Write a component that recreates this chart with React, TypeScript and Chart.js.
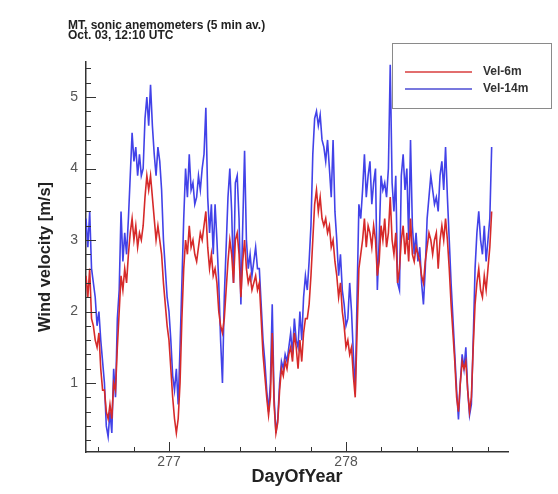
import { useEffect, useRef } from "react";
import { Chart, registerables } from "chart.js";

Chart.register(...registerables);

// Sample times: day of year, one value every 15 minutes
const DAY_START = 276.531;
const SAMPLE_STEP = 15 / 1440;

// Wind velocity at 6 m [m/s]
const VEL_6M = [
  2.5, 2.2, 2.6, 1.9, 1.8,
  1.6, 1.5, 1.7, 1.2, 0.9,
  0.9, 0.6, 0.5, 0.7, 0.5,
  1.0, 0.9, 1.5, 2.0, 2.5,
  2.3, 2.6, 2.4, 2.8, 3.1,
  3.3, 3.0, 3.2, 2.9, 3.1,
  3.0, 3.2, 3.6, 3.9, 3.7,
  3.9, 3.6, 3.3, 3.0, 3.2,
  3.0, 2.8, 2.4, 2.1, 1.8,
  1.6, 1.2, 0.8, 0.5, 0.3,
  0.5, 1.0, 1.9, 2.6, 3.0,
  2.8, 3.2, 2.9, 3.0, 2.8,
  2.7, 2.9, 3.1, 3.0, 3.2,
  3.4, 2.9, 2.6, 2.8, 2.5,
  2.6, 2.4, 2.0, 1.8, 1.7,
  1.9, 2.3, 2.7, 3.0, 2.8,
  2.4, 3.0, 3.1, 2.8, 2.2,
  2.7, 3.0, 2.6, 2.4, 2.5,
  2.3, 2.4, 2.5, 2.3, 2.4,
  1.9, 1.4, 1.1, 0.8, 0.55,
  0.8, 1.7, 0.7, 0.3, 0.45,
  0.9, 1.2, 1.1, 1.3, 1.2,
  1.4, 1.5, 1.3, 1.7, 1.5,
  1.2, 1.6, 1.3, 1.7, 1.9,
  1.9, 2.1, 2.5, 3.0, 3.5,
  3.7, 3.4, 3.6, 3.3, 3.2,
  3.3, 3.1, 3.2, 2.9, 3.0,
  2.7, 2.5, 2.2, 2.4, 2.0,
  1.8, 1.5, 1.6, 1.4, 1.5,
  1.1, 0.8, 1.7, 2.6, 2.8,
  3.0, 3.3, 2.9, 3.2, 3.1,
  2.9, 3.2, 3.0, 2.5, 2.7,
  3.2, 3.0, 3.3, 2.9, 3.1,
  3.6, 3.0, 2.8, 3.1, 2.4,
  2.6, 3.0, 3.2, 2.8, 3.1,
  2.7, 3.3, 2.8, 2.7, 2.9,
  2.8, 2.7, 2.5, 2.4, 2.7,
  2.9, 3.1, 3.0, 2.8, 3.0,
  3.1, 2.6, 3.0, 3.2, 3.0,
  3.3, 3.0, 2.6, 2.1, 1.7,
  1.3, 0.8, 0.6, 1.0, 1.3,
  1.2, 1.3, 0.9, 0.6, 0.8,
  1.5, 2.1, 2.4, 2.6, 2.3,
  2.2, 2.5, 2.3, 2.6, 2.9,
  3.4,
];

// Wind velocity at 14 m [m/s]
const VEL_14M = [
  3.3, 2.9, 3.4, 2.6, 2.4,
  2.2, 1.8, 2.0, 1.6, 1.3,
  1.0, 0.4, 0.25, 0.6, 0.3,
  1.2, 0.8, 1.9, 2.3, 3.4,
  2.7, 3.1, 2.8, 3.3, 3.9,
  4.5, 4.1, 4.3, 3.9, 4.2,
  3.9, 4.0, 4.7, 5.0, 4.6,
  5.17, 4.6, 4.2, 3.9, 4.3,
  4.1, 3.7, 3.0, 2.6, 2.2,
  2.0, 1.6, 1.1, 0.9, 1.2,
  0.7, 1.5, 2.4, 3.3, 4.0,
  3.6, 4.2, 3.7, 3.8, 3.5,
  3.6, 3.9, 3.7, 4.0, 4.2,
  4.85, 3.6, 3.1, 3.5, 2.8,
  3.5, 3.0, 2.4, 1.6, 1.0,
  2.2, 2.9, 3.6, 4.0, 3.4,
  2.4, 3.8, 3.9, 3.3, 2.1,
  3.2, 4.25, 3.0, 2.6, 2.8,
  2.5, 2.7, 2.9, 2.6, 2.6,
  2.1, 1.6, 1.3, 0.9, 0.6,
  1.0, 2.1, 0.8, 0.3, 0.5,
  1.0, 1.3, 1.2, 1.4, 1.3,
  1.5, 1.7, 1.4, 1.9, 1.6,
  1.5, 2.0, 1.6, 2.2, 2.5,
  2.3, 2.7, 3.2, 4.2, 4.7,
  4.8, 4.6, 4.75, 4.4, 4.3,
  4.1, 4.4, 4.0, 3.6, 4.4,
  3.4, 3.0, 2.5, 2.8, 2.3,
  2.1, 1.8, 1.9, 2.4, 2.0,
  1.4, 0.85, 2.2, 3.5, 3.3,
  3.7, 4.2, 3.6, 3.9, 4.1,
  3.5, 3.8, 4.0, 2.3, 3.0,
  3.9, 3.7, 3.8, 3.6, 4.0,
  5.45, 3.8, 3.4, 3.9, 2.4,
  2.3, 3.9, 4.2, 3.7, 4.0,
  3.0, 4.4, 3.2, 2.8, 3.1,
  2.7, 2.9, 2.4, 2.1, 2.6,
  3.3, 3.6, 3.9, 3.7, 3.5,
  3.6, 3.4, 3.9, 4.1, 3.7,
  4.3, 3.6, 3.0, 2.4, 1.9,
  1.4, 0.9, 0.49, 1.0, 1.4,
  1.2, 1.5, 0.9, 0.55, 0.7,
  1.6, 2.6, 3.1, 3.4, 3.0,
  2.8, 3.2, 2.7, 3.0, 3.3,
  4.3,
];

const SERIES_LABELS = ["Vel-6m", "Vel-14m"];
const SERIES_COLORS = ["rgb(214,42,42)", "rgb(66,66,232)"];
const LEGEND_COLORS = ["rgb(226,110,110)", "rgb(120,120,222)"];

const X_TICKS = [277, 278];
const Y_TICKS = [1, 2, 3, 4, 5];
const X_MINOR_STEP = 0.2;
const Y_MINOR_STEP = 0.2;

const X_RANGE = [276.531, 278.915];
const Y_RANGE = [0.035, 5.49];

const HEADER_LINES = ["MT, sonic anemometers (5 min av.)", "Oct. 03, 12:10 UTC"];

const FONT = "'Liberation Sans', Arial, sans-serif";

// Inward tick marks, header text and boxed legend
const decorations = {
  id: "decorations",
  afterDraw(chart: any) {
    const ctx = chart.ctx as CanvasRenderingContext2D;
    const xs = chart.scales.x;
    const ys = chart.scales.y;
    const { left, bottom } = chart.chartArea;

    ctx.save();
    ctx.strokeStyle = "#333";
    ctx.lineWidth = 1;

    // y axis ticks pointing into the plot
    for (let k = 1; ; k++) {
      const v = Math.round(k * Y_MINOR_STEP * 10) / 10;
      if (v > Y_RANGE[1]) break;
      const major = Y_TICKS.includes(v);
      const py = Math.round(ys.getPixelForValue(v)) + 0.5;
      ctx.beginPath();
      ctx.moveTo(left, py);
      ctx.lineTo(left + (major ? 10 : 5), py);
      ctx.stroke();
    }

    // x axis ticks pointing into the plot
    const firstX = Math.ceil(X_RANGE[0] / X_MINOR_STEP) * X_MINOR_STEP;
    for (let k = 0; ; k++) {
      const v = Math.round((firstX + k * X_MINOR_STEP) * 10) / 10;
      if (v > X_RANGE[1]) break;
      const major = X_TICKS.includes(v);
      const px = Math.round(xs.getPixelForValue(v)) + 0.5;
      ctx.beginPath();
      ctx.moveTo(px, bottom);
      ctx.lineTo(px, bottom - (major ? 10 : 5));
      ctx.stroke();
    }

    // header
    ctx.fillStyle = "#222";
    ctx.font = `bold 12px ${FONT}`;
    ctx.textAlign = "left";
    ctx.textBaseline = "alphabetic";
    HEADER_LINES.forEach((line, i) => ctx.fillText(line, 68, 29 + i * 10));

    // legend box
    const bx = 392.5, by = 43.5, bw = 159, bh = 65;
    ctx.fillStyle = "#fff";
    ctx.fillRect(bx, by, bw, bh);
    ctx.strokeStyle = "#8a8a8a";
    ctx.lineWidth = 1;
    ctx.strokeRect(bx, by, bw, bh);

    ctx.font = `bold 12px ${FONT}`;
    ctx.textBaseline = "middle";
    chart.data.datasets.forEach((ds: any, i: number) => {
      const ly = 72 + i * 17;
      ctx.strokeStyle = LEGEND_COLORS[i];
      ctx.lineWidth = 1.8;
      ctx.beginPath();
      ctx.moveTo(405, ly);
      ctx.lineTo(472, ly);
      ctx.stroke();
      ctx.fillStyle = "#333";
      ctx.fillText(ds.label, 483, ly);
    });
    ctx.restore();
  },
};

export default function App() {
  const canvasRef = useRef<HTMLCanvasElement | null>(null);

  useEffect(() => {
    const canvas = canvasRef.current;
    if (!canvas) return;

    const days = VEL_14M.map((_, i) => DAY_START + i * SAMPLE_STEP);
    const series = [VEL_6M, VEL_14M];

    const chart = new Chart(canvas, {
      type: "line",
      data: {
        datasets: series.map((vals, s) => ({
          label: SERIES_LABELS[s],
          data: vals.map((v, i) => ({ x: days[i], y: v })),
          borderColor: SERIES_COLORS[s],
          backgroundColor: SERIES_COLORS[s],
          borderWidth: 1.6,
          pointRadius: 0,
          tension: 0,
          fill: false,
        })),
      },
      options: {
        animation: false,
        responsive: false,
        maintainAspectRatio: false,
        layout: { padding: { left: 0, top: 62, right: 50, bottom: 0 } },
        plugins: {
          legend: { display: false },
          title: { display: false },
          tooltip: { enabled: false },
        },
        scales: {
          x: {
            type: "linear",
            min: X_RANGE[0],
            max: X_RANGE[1],
            afterBuildTicks: (s: any) => {
              s.ticks = X_TICKS.map((v) => ({ value: v }));
            },
            afterFit: (s: any) => {
              s.height = 42;
            },
            grid: { display: false, drawTicks: false },
            border: { display: true, color: "#333", width: 1.5 },
            ticks: {
              padding: 2,
              color: "#555",
              font: { family: FONT, size: 14 },
              maxRotation: 0,
              callback: (v: any) => String(v),
            },
            title: {
              display: true,
              text: "DayOfYear",
              color: "#222",
              font: { family: FONT, size: 18, weight: "bold" },
              padding: { top: 0, bottom: 6 },
            },
          },
          y: {
            type: "linear",
            min: Y_RANGE[0],
            max: Y_RANGE[1],
            afterBuildTicks: (s: any) => {
              s.ticks = Y_TICKS.map((v) => ({ value: v }));
            },
            afterFit: (s: any) => {
              s.width = 86;
            },
            grid: { display: false, drawTicks: false },
            border: { display: true, color: "#333", width: 1.5 },
            ticks: {
              padding: 8,
              color: "#555",
              font: { family: FONT, size: 14 },
              callback: (v: any) => String(v),
            },
            title: {
              display: true,
              text: "Wind velocity [m/s]",
              color: "#222",
              font: { family: FONT, size: 16.5, weight: "bold" },
              padding: { top: 36, bottom: 0 },
            },
          },
        },
      },
      plugins: [decorations],
    });

    return () => chart.destroy();
  }, []);

  return (
    <div
      style={{
        position: "fixed",
        left: 0,
        top: 0,
        width: 558,
        height: 494,
        background: "#fff",
      }}
    >
      <canvas ref={canvasRef} width={558} height={494} style={{ width: 558, height: 494 }} />
    </div>
  );
}
